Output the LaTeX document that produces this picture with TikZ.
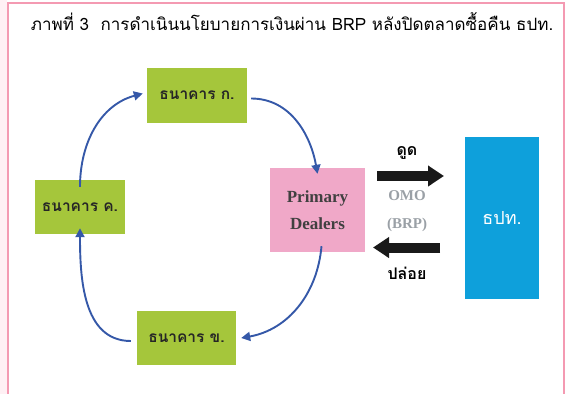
\documentclass[tikz,border=0pt]{standalone}
\usepackage{fontspec}
\setmainfont{Liberation Serif}
\newfontfamily\thai[Script=Thai]{Loma}
\usetikzlibrary{arrows.meta}
\definecolor{framepink}{HTML}{F49AB2}
\definecolor{sidepink}{HTML}{FFF0F4}
\definecolor{bankgreen}{HTML}{A5C63B}
\definecolor{pdpink}{HTML}{F0A8C8}
\definecolor{botblue}{HTML}{0EA0DB}
\definecolor{flowblue}{HTML}{3558A8}
\definecolor{omogray}{HTML}{9AA0A6}
\definecolor{pdtext}{HTML}{404040}
\tikzset{
  bank/.style={fill=bankgreen, draw=none, minimum width=#1, minimum height=55pt, inner sep=0pt, font=\thai\bfseries\fontsize{15.5}{17}\selectfont, text=black!85},
  flow/.style={draw=flowblue, line width=1.9pt, -{Triangle[length=9pt,width=9pt]}},
  bigarrow/.style={draw=black!90, line width=10pt, -{Triangle[length=16pt,width=20pt]}},
  lbl/.style={font=\thai\bfseries\fontsize{16}{18}\selectfont, text=black},
  omo/.style={font=\bfseries\fontsize{15}{17}\selectfont, text=omogray},
}
\begin{document}
\begin{tikzpicture}[x=1pt,y=-1pt]
\useasboundingbox (0,0) rectangle (566,394);
% frame
\fill[sidepink] (0,0) rectangle (7,394);
\draw[framepink, line width=2pt] (8,394) -- (8,3) -- (564,3) -- (564,394);
% title
\node[font=\thai\fontsize{17}{19}\selectfont, anchor=center] (title) at (292,22) {ภาพที่ 3\ \ การดำเนินนโยบายการเงินผ่าน BRP หลังปิดตลาดซื้อคืน ธปท.};
% boxes
\node[bank=100pt] (ka) at (197,95.5) {ธนาคาร ก.};
\node[bank=90pt, minimum height=54pt] (kk) at (80,207) {ธนาคาร ค.};
\node[bank=99pt, minimum height=54pt] (kh) at (186.5,338) {ธนาคาร ข.};
\node[fill=pdpink, minimum width=95pt, minimum height=84pt, inner sep=0pt, align=center, text=pdtext, font=\bfseries\fontsize{17}{27}\selectfont] (pd) at (317.5,210) {Primary\\Dealers};
\node[fill=botblue, minimum width=74pt, minimum height=162pt, inner sep=0pt, text=white, font=\thai\fontsize{18}{20}\selectfont] (bot) at (502,218) {ธปท.};
% flows
\draw[flow] ([xshift=4pt,yshift=-3pt]ka.east) to[out=0,in=100] ([yshift=-6pt]pd.north);
\draw[flow] ([xshift=4pt,yshift=6pt]pd.south) to[out=-95,in=10] ([xshift=5pt]kh.east);
\draw[flow] ([xshift=-6pt,yshift=-3pt]kh.west) to[out=180,in=-90] ([yshift=6pt]kk.south);
\draw[flow] ([yshift=-7pt]kk.north) to[out=90,in=195] ([xshift=-4pt,yshift=2pt]ka.west);
% big arrows
\coordinate (r1) at (377,176);
\coordinate (r2) at (444,176);
\coordinate (l1) at (440,247.5);
\coordinate (l2) at (373,247.5);
\draw[bigarrow] (r1) -- (r2);
\draw[bigarrow] (l1) -- (l2);
% labels
\node[lbl] (dud) at (407,153) {ดูด};
\node[omo] (omo) at (407,196) {OMO};
\node[omo] (brp) at (407,225) {(BRP)};
\node[lbl] (ploi) at (407,273) {ปล่อย};
\end{tikzpicture}
\end{document}
